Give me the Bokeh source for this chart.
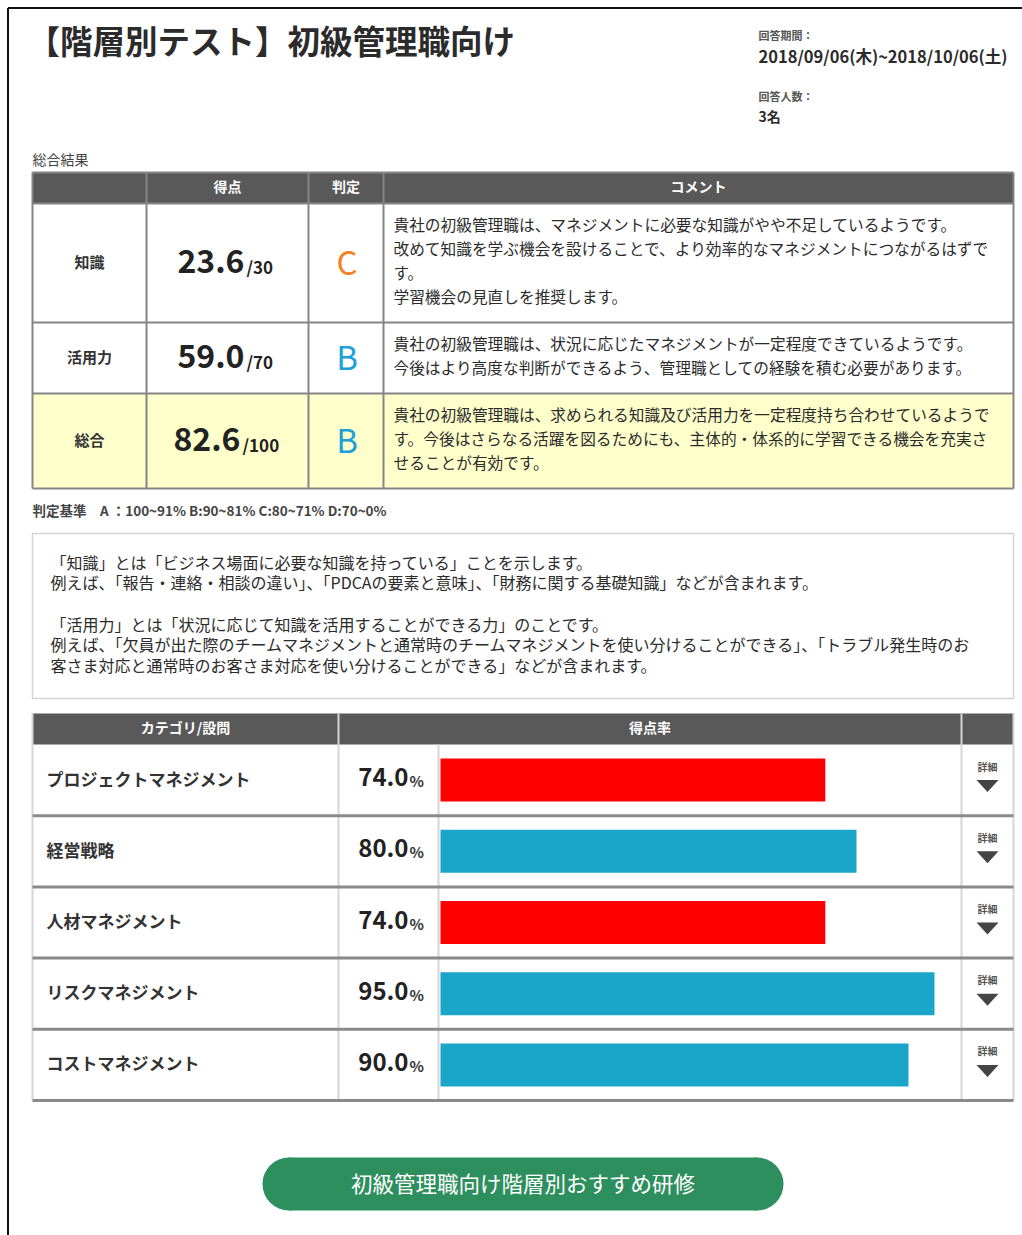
from bokeh.plotting import figure
from bokeh.models import Range1d
from bokeh.core.properties import value
from bokeh.embed import file_html
from bokeh.resources import INLINE

# ---------------- data ----------------
title = "【階層別テスト】初級管理職向け"
period_label = "回答期間："
period = "2018/09/06(木)~2018/10/06(土)"
count_label = "回答人数："
count_text = "3名"
summary_title = "総合結果"
table_headers = ["得点", "判定", "コメント"]
summary_labels = ["知識", "活用力", "総合"]
scores = [23.6, 59.0, 82.6]
max_scores = [30, 70, 100]
grades = ["C", "B", "B"]
comments = [
    ["貴社の初級管理職は、マネジメントに必要な知識がやや不足しているようです。",
     "改めて知識を学ぶ機会を設けることで、より効率的なマネジメントにつながるはずで",
     "す。",
     "学習機会の見直しを推奨します。"],
    ["貴社の初級管理職は、状況に応じたマネジメントが一定程度できているようです。",
     "今後はより高度な判断ができるよう、管理職としての経験を積む必要があります。"],
    ["貴社の初級管理職は、求められる知識及び活用力を一定程度持ち合わせているようで",
     "す。今後はさらなる活躍を図るためにも、主体的・体系的に学習できる機会を充実さ",
     "せることが有効です。"],
]
criteria = "判定基準　A ：100~91% B:90~81% C:80~71% D:70~0%"
notes = [
    "「知識」とは「ビジネス場面に必要な知識を持っている」ことを示します。",
    "例えば、「報告・連絡・相談の違い」、「PDCAの要素と意味」、「財務に関する基礎知識」などが含まれます。",
    "",
    "「活用力」とは「状況に応じて知識を活用することができる力」のことです。",
    "例えば、「欠員が出た際のチームマネジメントと通常時のチームマネジメントを使い分けることができる」、「トラブル発生時のお",
    "客さま対応と通常時のお客さま対応を使い分けることができる」などが含まれます。",
]
bar_headers = ["カテゴリ/設問", "得点率"]
categories = ["プロジェクトマネジメント", "経営戦略", "人材マネジメント",
              "リスクマネジメント", "コストマネジメント"]
rates = [74.0, 80.0, 74.0, 95.0, 90.0]
detail_label = "詳細"
button_label = "初級管理職向け階層別おすすめ研修"

# ---------------- styles ----------------
FONT = value("Noto Sans CJK JP")
TXT = "#333333"
DARK = "#595959"
GRID1 = "#858585"
GRADE_COLORS = {"A": "#1e9fd9", "B": "#1e9fd9", "C": "#f5801f", "D": "#e53935"}
RED = "#ff0000"
BLUE = "#19a6c8"
GREEN = "#2d8f5e"

W, H = 1022, 1235
p = figure(width=W, height=H, output_backend="svg", toolbar_location=None,
           x_range=Range1d(0, W), y_range=Range1d(H, 0),
           x_axis_location=None, y_axis_location=None, min_border=0)
p.outline_line_color = None
p.xgrid.visible = False
p.ygrid.visible = False
p.background_fill_color = "white"
p.border_fill_color = "white"

DY = -2  # vertical correction for the "middle" text baseline


def txt(x, y, t, size, color=TXT, align="left", baseline="middle", bold=False):
    p.text(x=[x], y=[y + DY], text=[t], text_font=FONT, text_font_size=size,
           text_color=color, text_align=align, text_baseline=baseline,
           text_font_style="bold" if bold else "normal")


# outer frame
p.line(x=[7.5, W], y=[7.5, 7.5], line_color="#111111", line_width=2)
p.line(x=[7.5, 7.5], y=[7.5, H], line_color="#111111", line_width=2)

# header
txt(27, 41, title, "32.5px", color="#2b2b2b", bold=True)
txt(758, 36, period_label, "11px", color="#555555", bold=True)
txt(758, 57, period, "16.5px", color="#2b2b2b", bold=True)
txt(758, 97, count_label, "11px", color="#555555", bold=True)
txt(758, 117, count_text, "14px", color="#2b2b2b", bold=True)

# ---------------- summary table ----------------
txt(32, 160, summary_title, "14px", color="#444444")
cols = [32, 146, 308, 383, 1013]
rows = [172, 203, 322, 393, 488]
p.quad(left=cols[0], right=cols[-1], top=rows[0], bottom=rows[1],
       fill_color=DARK, line_color=None)
p.quad(left=cols[0], right=cols[-1], top=rows[3], bottom=rows[4],
       fill_color="#ffffcc", line_color=None)
for i, h in enumerate(table_headers):
    cx = (cols[i + 1] + cols[i + 2]) / 2
    txt(cx, (rows[0] + rows[1]) / 2, h, "14px", color="white", align="center", bold=True)
for c in cols:
    p.line(x=[c, c], y=[rows[0], rows[-1]], line_color=GRID1, line_width=2)
for r in rows:
    p.line(x=[cols[0], cols[-1]], y=[r, r], line_color=GRID1, line_width=2)

for i, lab in enumerate(summary_labels):
    top, bot = rows[i + 1], rows[i + 2]
    cy = (top + bot) / 2
    txt((cols[0] + cols[1]) / 2, cy, lab, "15px", color="#333333", align="center", bold=True)
    split = 252 - 4 * len(str(max_scores[i]))
    txt(split, cy, f"{scores[i]:.1f}", "32px", color="#222222", align="right", bold=True)
    txt(split + 2, cy + 5.5, f"/{max_scores[i]}", "17px", color="#222222",
        align="left", bold=True)
    txt((cols[2] + cols[3]) / 2 + 1, cy, grades[i], "33px",
        color=GRADE_COLORS[grades[i]], align="center")
    for j, line in enumerate(comments[i]):
        txt(cols[3] + 10, top + 22.5 + 24 * j, line, "15.7px", color="#2b2b2b")

txt(32, 511, criteria, "13.5px", color="#444444", bold=True)

# ---------------- notes box ----------------
p.quad(left=32, right=1013, top=533, bottom=698, fill_color="white",
       line_color="#d4d4d4", line_width=1.5)
for j, line in enumerate(notes):
    if line:
        txt(50, 563 + 20.7 * j, line, "16px", color="#2b2b2b")

# ---------------- bar table ----------------
bx = [32, 338, 438, 961, 1013]
btop, bhead = 713, 744
rh = 71.2
nrows = len(categories)
bbot = bhead + rh * nrows
p.quad(left=bx[0], right=bx[-1], top=btop, bottom=bhead, fill_color=DARK, line_color=None)
txt((bx[0] + bx[1]) / 2, (btop + bhead) / 2, bar_headers[0], "14px", color="white",
    align="center", bold=True)
txt((bx[1] + bx[3]) / 2, (btop + bhead) / 2, bar_headers[1], "14px", color="white",
    align="center", bold=True)

for c in [bx[0], bx[1], bx[3], bx[4]]:
    p.line(x=[c, c], y=[btop, bbot], line_color="#d6d6d6", line_width=2)
p.line(x=[bx[2], bx[2]], y=[bhead, bbot], line_color="#d6d6d6", line_width=2)

bar_left, bar_full = 440, 520  # 0% .. 100%
centers = [bhead + rh * (i + 0.5) for i in range(nrows)]
rights = [bar_left + bar_full * v / 100 for v in rates]
colors = [RED if v < 75 else BLUE for v in rates]
p.quad(left=bar_left, right=rights, top=[c - 21.5 for c in centers],
       bottom=[c + 21.5 for c in centers], fill_color=colors, line_color=None)

for i, (cat, v) in enumerate(zip(categories, rates)):
    cy = centers[i]
    txt(46, cy, cat, "17px", color="#333333", bold=True)
    txt(408, cy - 1, f"{v:.1f}", "24px", color="#222222", align="right", bold=True)
    txt(409, cy + 2.5, "%", "15px", color="#333333", align="left", bold=True)
    txt(987, cy - 12, detail_label, "10px", color="#555555", align="center", bold=True)

p.patches(xs=[[976, 998, 987] for _ in centers],
          ys=[[c, c, c + 12] for c in centers],
          fill_color="#444444", line_color=None)

for i in range(1, nrows + 1):
    y = bhead + rh * i
    p.line(x=[bx[0], bx[-1]], y=[y, y], line_color="#8a8a8a", line_width=3)

# ---------------- button ----------------
bl, br, bt, bb = 262, 783, 1157, 1210
rad = (bb - bt) / 2
p.quad(left=bl + rad, right=br - rad, top=bt, bottom=bb, fill_color=GREEN, line_color=None)
p.circle(x=[bl + rad, br - rad], y=[bt + rad, bt + rad], radius=rad,
         fill_color=GREEN, line_color=None)
txt((bl + br) / 2, (bt + bb) / 2, button_label, "21.5px", color="white", align="center")

open("out.html", "w").write(file_html(p, INLINE))
